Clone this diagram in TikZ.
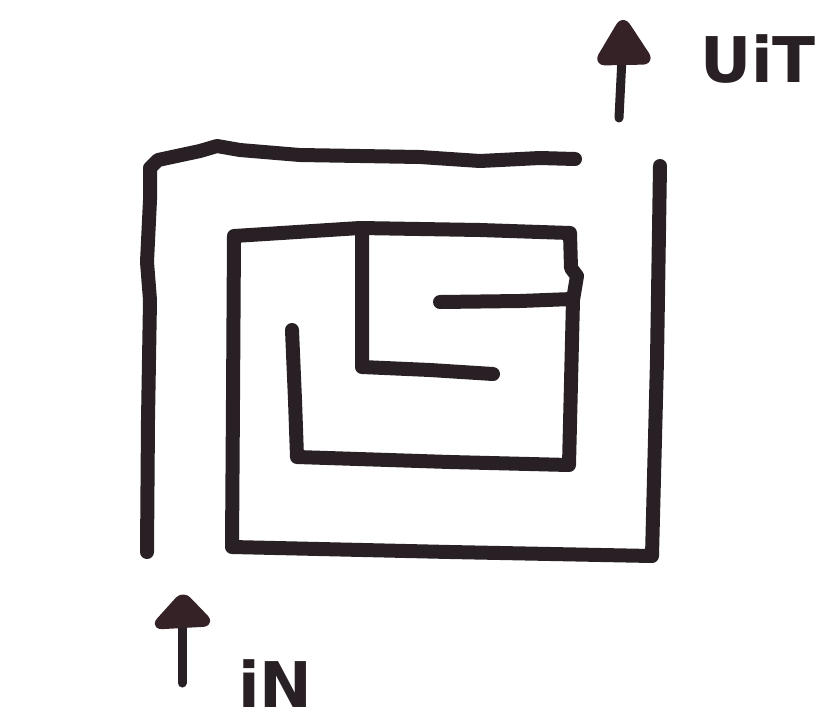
\documentclass[tikz,border=0pt]{standalone}
\usepackage{fontspec}
\setmainfont{DejaVu Sans}
\definecolor{ink}{RGB}{40,32,36}
\definecolor{headink}{RGB}{52,34,38}
\tikzset{
  wall/.style={draw=ink, line width=14pt, line cap=round, line join=round},
  shaft/.style={draw=ink, line width=9pt, line cap=round},
  tip/.style={fill=headink, draw=headink, line width=7pt, line join=round, rounded corners=7pt},
  lbl/.style={text=ink, font=\fontsize{63}{66}\selectfont\bfseries, inner sep=0pt, anchor=base west}
}
\begin{document}
\begin{tikzpicture}[x=1pt,y=-1pt]
\useasboundingbox (0,0) rectangle (823,724);
% outer wall: left side and top
\draw[wall] (147,552) -- (148,420) -- (150,300) -- (147,262) -- (150,200) -- (150,168)
  -- (158,160) -- (200,151) -- (217,146) -- (240,150) -- (300,155) -- (420,157)
  -- (480,161) -- (540,158) -- (575,159);
% spiral: right wall, bottom, inner box, inner bottom
\draw[wall] (660,166) -- (657,360) -- (652,556) -- (450,552) -- (232,547) -- (233,400) -- (234,236)
  -- (360,228) -- (480,230) -- (570,233) -- (571,268) -- (577,276) -- (573,300)
  -- (569,465) -- (450,462) -- (297,457) -- (295,400) -- (292,330);
% inner L
\draw[wall] (362,229) -- (362,367) -- (430,370) -- (493,374);
% short bar
\draw[wall] (440,302) -- (520,301) -- (572,299);
% arrows
\coordinate (outbase) at (619,118);
\coordinate (outtop) at (622,58);
\draw[shaft] (outbase) -- (outtop);
\filldraw[tip] (623,20) -- (598,62) -- (650,61) -- cycle;
\coordinate (inbase) at (182,683);
\coordinate (intop) at (182,622);
\draw[shaft] (inbase) -- (intop);
\filldraw[tip] (183,595) -- (155,626) -- (210,623) -- cycle;
% labels
\node[lbl] (uit) at (700,82) {UiT};
\node[lbl] (in) at (238,707) {iN};
\end{tikzpicture}
\end{document}
